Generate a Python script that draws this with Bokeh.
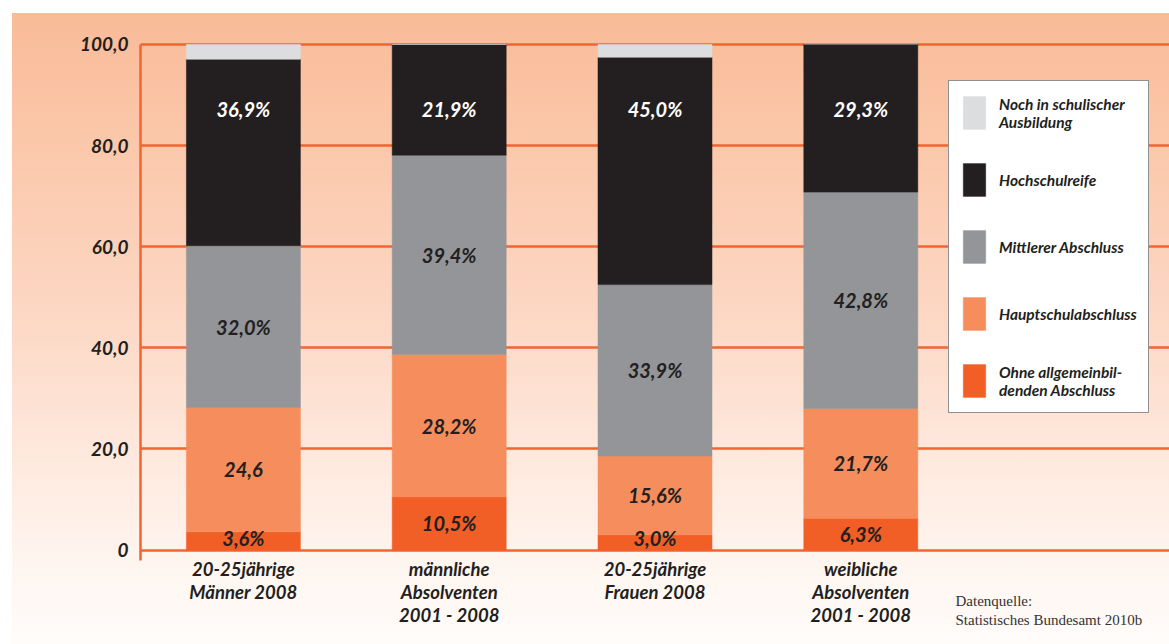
import numpy as np
from bokeh.plotting import figure
from bokeh.models import (ColumnDataSource, FactorRange, Range1d, FixedTicker,
                          Legend, LegendItem, Label)
from bokeh.core.properties import value
from bokeh.embed import file_html
from bokeh.resources import INLINE

# ---------------- data ----------------
categories = ["20-25jährige\nMänner 2008",
              "männliche\nAbsolventen\n2001 - 2008",
              "20-25jährige\nFrauen 2008",
              "weibliche\nAbsolventen\n2001 - 2008"]
ohne = [3.6, 10.5, 3.0, 6.3]
haupt = [24.6, 28.2, 15.6, 21.7]
mittlerer = [32.0, 39.4, 33.9, 42.8]
hochschulreife = [36.9, 21.9, 45.0, 29.3]
noch = [2.9, 0.0, 2.5, 0.0]

series_keys = ["ohne", "haupt", "mittlerer", "hoch", "noch"]
series_names = ["Ohne allgemeinbil-\ndenden Abschluss",
                "Hauptschulabschluss",
                "Mittlerer Abschluss",
                "Hochschulreife",
                "Noch in schulischer\nAusbildung"]
ohne_labels = ["3,6%", "10,5%", "3,0%", "6,3%"]
haupt_labels = ["24,6", "28,2%", "15,6%", "21,7%"]
mittlerer_labels = ["32,0%", "39,4%", "33,9%", "42,8%"]
hoch_labels = ["36,9%", "21,9%", "45,0%", "29,3%"]

y_ticks = [0, 20, 40, 60, 80, 100]
y_tick_labels = ["0", "20,0", "40,0", "60,0", "80,0", "100,0"]
source_note = ["Datenquelle:", "Statistisches Bundesamt 2010b"]

# ---------------- style ----------------
colors = ["#F15E26", "#F68D5C", "#939598", "#231F20", "#DCDDDF"]
ORANGE = "#F26430"
DARK = "#231F20"
FONT = "Lato"

factors = categories + [" "]

p = figure(x_range=FactorRange(factors=factors, range_padding=0),
           y_range=Range1d(-18.69, 106.13), x_axis_location=None,
           width=1169, height=644, output_backend="svg", toolbar_location=None,
           min_border_left=140, min_border_right=0, min_border_top=13,
           min_border_bottom=0)
p.background_fill_color = None
p.border_fill_color = None
p.outline_line_color = None
p.styles = {
    "background-image":
        "linear-gradient(to right, #ffffff 0px, #ffffff 12px, rgba(255,255,255,0) 12px),"
        "linear-gradient(to bottom, #ffffff 0px, #ffffff 13px, #F9BB98 13px, #FBC8AB 23%, "
        "#FCD6C2 47%, #FEE8DC 70%, #FEF5EF 87%, #FFFCFA 100%)"
}

data = dict(x=categories, ohne=ohne, haupt=haupt, mittlerer=mittlerer,
            hoch=hochschulreife, noch=noch)
src = ColumnDataSource(data)
renderers = p.vbar_stack(series_keys, x="x", width=0.554, color=colors,
                         line_color=colors, line_width=0.5, source=src)

# value labels
stack = np.array([ohne, haupt, mittlerer, hochschulreife, noch])
tops = np.cumsum(stack, axis=0)
bottoms = tops - stack
centers = (tops + bottoms) / 2.0
TOP_LABEL_Y = 87.3
label_sets = [
    (np.maximum(centers[0], 2.4), ohne_labels, DARK),
    (centers[1], haupt_labels, DARK),
    (centers[2], mittlerer_labels, DARK),
    (np.full(len(categories), TOP_LABEL_Y), hoch_labels, "#FFFFFF"),
]
for ys, texts, col in label_sets:
    p.text(x=categories, y=list(ys), text=texts, text_align="center",
           text_baseline="middle", text_font=value(FONT),
           text_font_style="bold italic", text_font_size="20px",
           text_color=col)

# category labels under the bars
p.text(x=categories, y=[-1.6] * len(categories), text=categories,
       text_align="center", text_baseline="top", text_font=value(FONT),
       text_font_style="bold italic", text_font_size="18.5px",
       text_color=DARK, text_line_height=1.05)

# y axis
p.yaxis.ticker = FixedTicker(ticks=y_ticks)
p.yaxis.major_label_overrides = {t: l for t, l in zip(y_ticks, y_tick_labels)}
p.yaxis.bounds = (-2.1, 100)
p.yaxis.axis_line_color = ORANGE
p.yaxis.axis_line_width = 2.5
p.yaxis.major_tick_line_color = None
p.yaxis.minor_tick_line_color = None
p.yaxis.major_tick_out = 0
p.yaxis.major_label_standoff = 12
p.yaxis.major_label_text_font = FONT
p.yaxis.major_label_text_font_style = "bold italic"
p.yaxis.major_label_text_font_size = "19px"
p.yaxis.major_label_text_color = DARK

p.xgrid.grid_line_color = None
p.ygrid.ticker = FixedTicker(ticks=y_ticks)
p.ygrid.grid_line_color = ORANGE
p.ygrid.grid_line_width = 2.5

# legend (top-down order)
items = [LegendItem(label=series_names[i], renderers=[renderers[i]])
         for i in reversed(range(len(series_names)))]
legend = Legend(items=items, location=(808, 231), orientation="vertical",
                glyph_width=28, glyph_height=41, spacing=26, padding=11,
                margin=0, label_standoff=11, label_text_font=FONT,
                label_text_font_style="bold italic", label_text_font_size="15.5px",
                label_text_color=DARK, background_fill_color="#FFFFFF",
                background_fill_alpha=1.0, border_line_color=DARK,
                border_line_width=1)
p.add_layout(legend, "center")

# source note
for i, txt in enumerate(source_note):
    p.add_layout(Label(x=815, y=44 - 19 * i, x_units="screen", y_units="screen",
                       text=txt, text_font="Liberation Serif",
                       text_font_size="15px", text_color="#333333",
                       text_baseline="middle", text_align="left"))

open("out.html", "w").write(file_html(p, INLINE))
